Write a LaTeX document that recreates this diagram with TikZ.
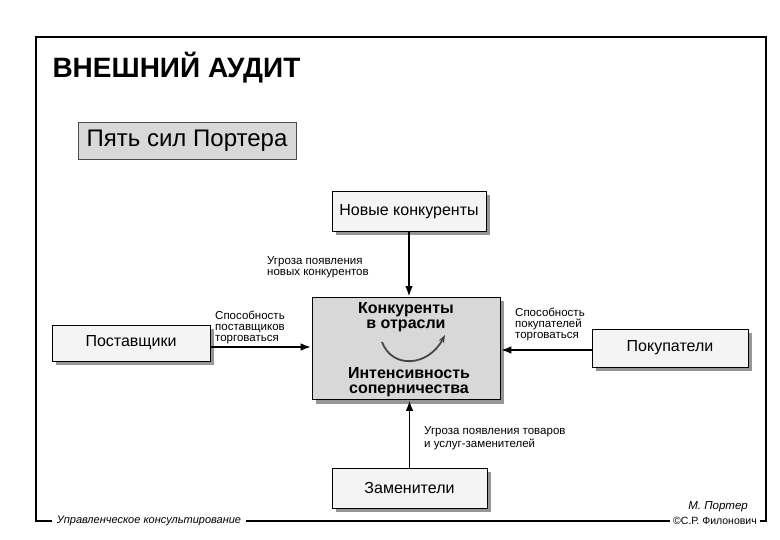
\documentclass[tikz,border=0pt]{standalone}
\usepackage{fontspec}
\setmainfont{Liberation Sans}
\usepackage{tikz}
\usetikzlibrary{arrows.meta,positioning,shadows}
\definecolor{boxgray}{RGB}{216,216,216}
\definecolor{boxlight}{RGB}{244,244,244}
\definecolor{shadowgray}{RGB}{150,150,150}
\definecolor{arcgray}{RGB}{70,70,70}

\begin{document}
\begin{tikzpicture}[x=1pt,y=-1pt,>=Latex,
  force/.style={draw=black,fill=boxlight,minimum width=154pt,minimum height=40pt,inner sep=0pt,
    font=\fontsize{16}{18}\selectfont,drop shadow={shadow xshift=4pt,shadow yshift=-4pt,fill=shadowgray,opacity=1}},
  pressure/.style={->,line width=1.6pt,shorten >=1pt},
  note/.style={anchor=north west,align=left,inner sep=0pt,font=\fontsize{11.5}{11}\selectfont}]
\useasboundingbox[fill=white] (0,0) rectangle (780,540);
\draw[line width=2.8pt] (36,521) -- (36,37) -- (766,37) -- (766,521) -- cycle;
\node[anchor=base west,font=\bfseries\fontsize{28}{30}\selectfont] (title) at (49,78) {ВНЕШНИЙ АУДИТ};
\node[draw=black!70,fill=boxgray,minimum width=218pt,minimum height=37pt,inner sep=0pt,
  font=\fontsize{24}{26}\selectfont] (porter) at (187,140.5) {Пять сил Портера};
% five forces
\node[force,minimum width=188pt,minimum height=102pt,fill=boxgray] (rivals) at (406,348.5) {};
\node[font=\bfseries\fontsize{16}{14.5}\selectfont,align=center,anchor=north] (rivalstop) at (406,299) {Конкуренты\\в отрасли};
\node[font=\bfseries\fontsize{16}{15}\selectfont,align=center,anchor=south] (rivalsbot) at (409,400) {Интенсивность\\соперничества};
\draw[arcgray,line width=1.8pt,-{Stealth[length=8pt,width=6pt]}] (382,342) .. controls (392,369) and (428,367) .. (445,335);
\node[force] (newcomp) at (409,211.5) {Новые конкуренты};
\node[force,minimum width=158pt,minimum height=36pt] (suppliers) at (131,343) {Поставщики};
\node[force,minimum width=156pt,minimum height=38pt] (buyers) at (670,348) {Покупатели};
\node[force,minimum width=155pt] (subst) at (409.5,488) {Заменители};
\draw[pressure] (newcomp.south) -- (newcomp.south |- rivals.north);
\draw[pressure] ([yshift=-4pt]suppliers.east) -- ([yshift=-4pt]suppliers.east -| rivals.west);
\draw[pressure] ([yshift=-2pt]buyers.west) -- ([yshift=-2pt]buyers.west -| rivals.east);
\draw[pressure] (subst.north) -- (subst.north |- rivals.south);
\node[note] (newthreat) at (267,256) {Угроза появления\\новых конкурентов};
\node[note] (supppower) at (215,311) {Способность\\поставщиков\\торговаться};
\node[note] (buypower) at (515,308) {Способность\\покупателей\\торговаться};
\node[note,font=\fontsize{11.5}{13}\selectfont] (substthreat) at (424,426) {Угроза появления товаров\\и услуг-заменителей};
% footer
\node[fill=white,inner xsep=5pt,inner ysep=1pt,font=\itshape\fontsize{11}{11}\selectfont] (course) at (149,521) {Управленческое консультирование};
\node[fill=white,inner xsep=3pt,inner ysep=1pt,font=\fontsize{10.5}{11}\selectfont] (copyright) at (715,521) {©С.Р. Филонович};
\node[anchor=south east,inner sep=0pt,font=\itshape\fontsize{11.5}{12}\selectfont] (author) at (748,512) {М. Портер};
\end{tikzpicture}
\end{document}
